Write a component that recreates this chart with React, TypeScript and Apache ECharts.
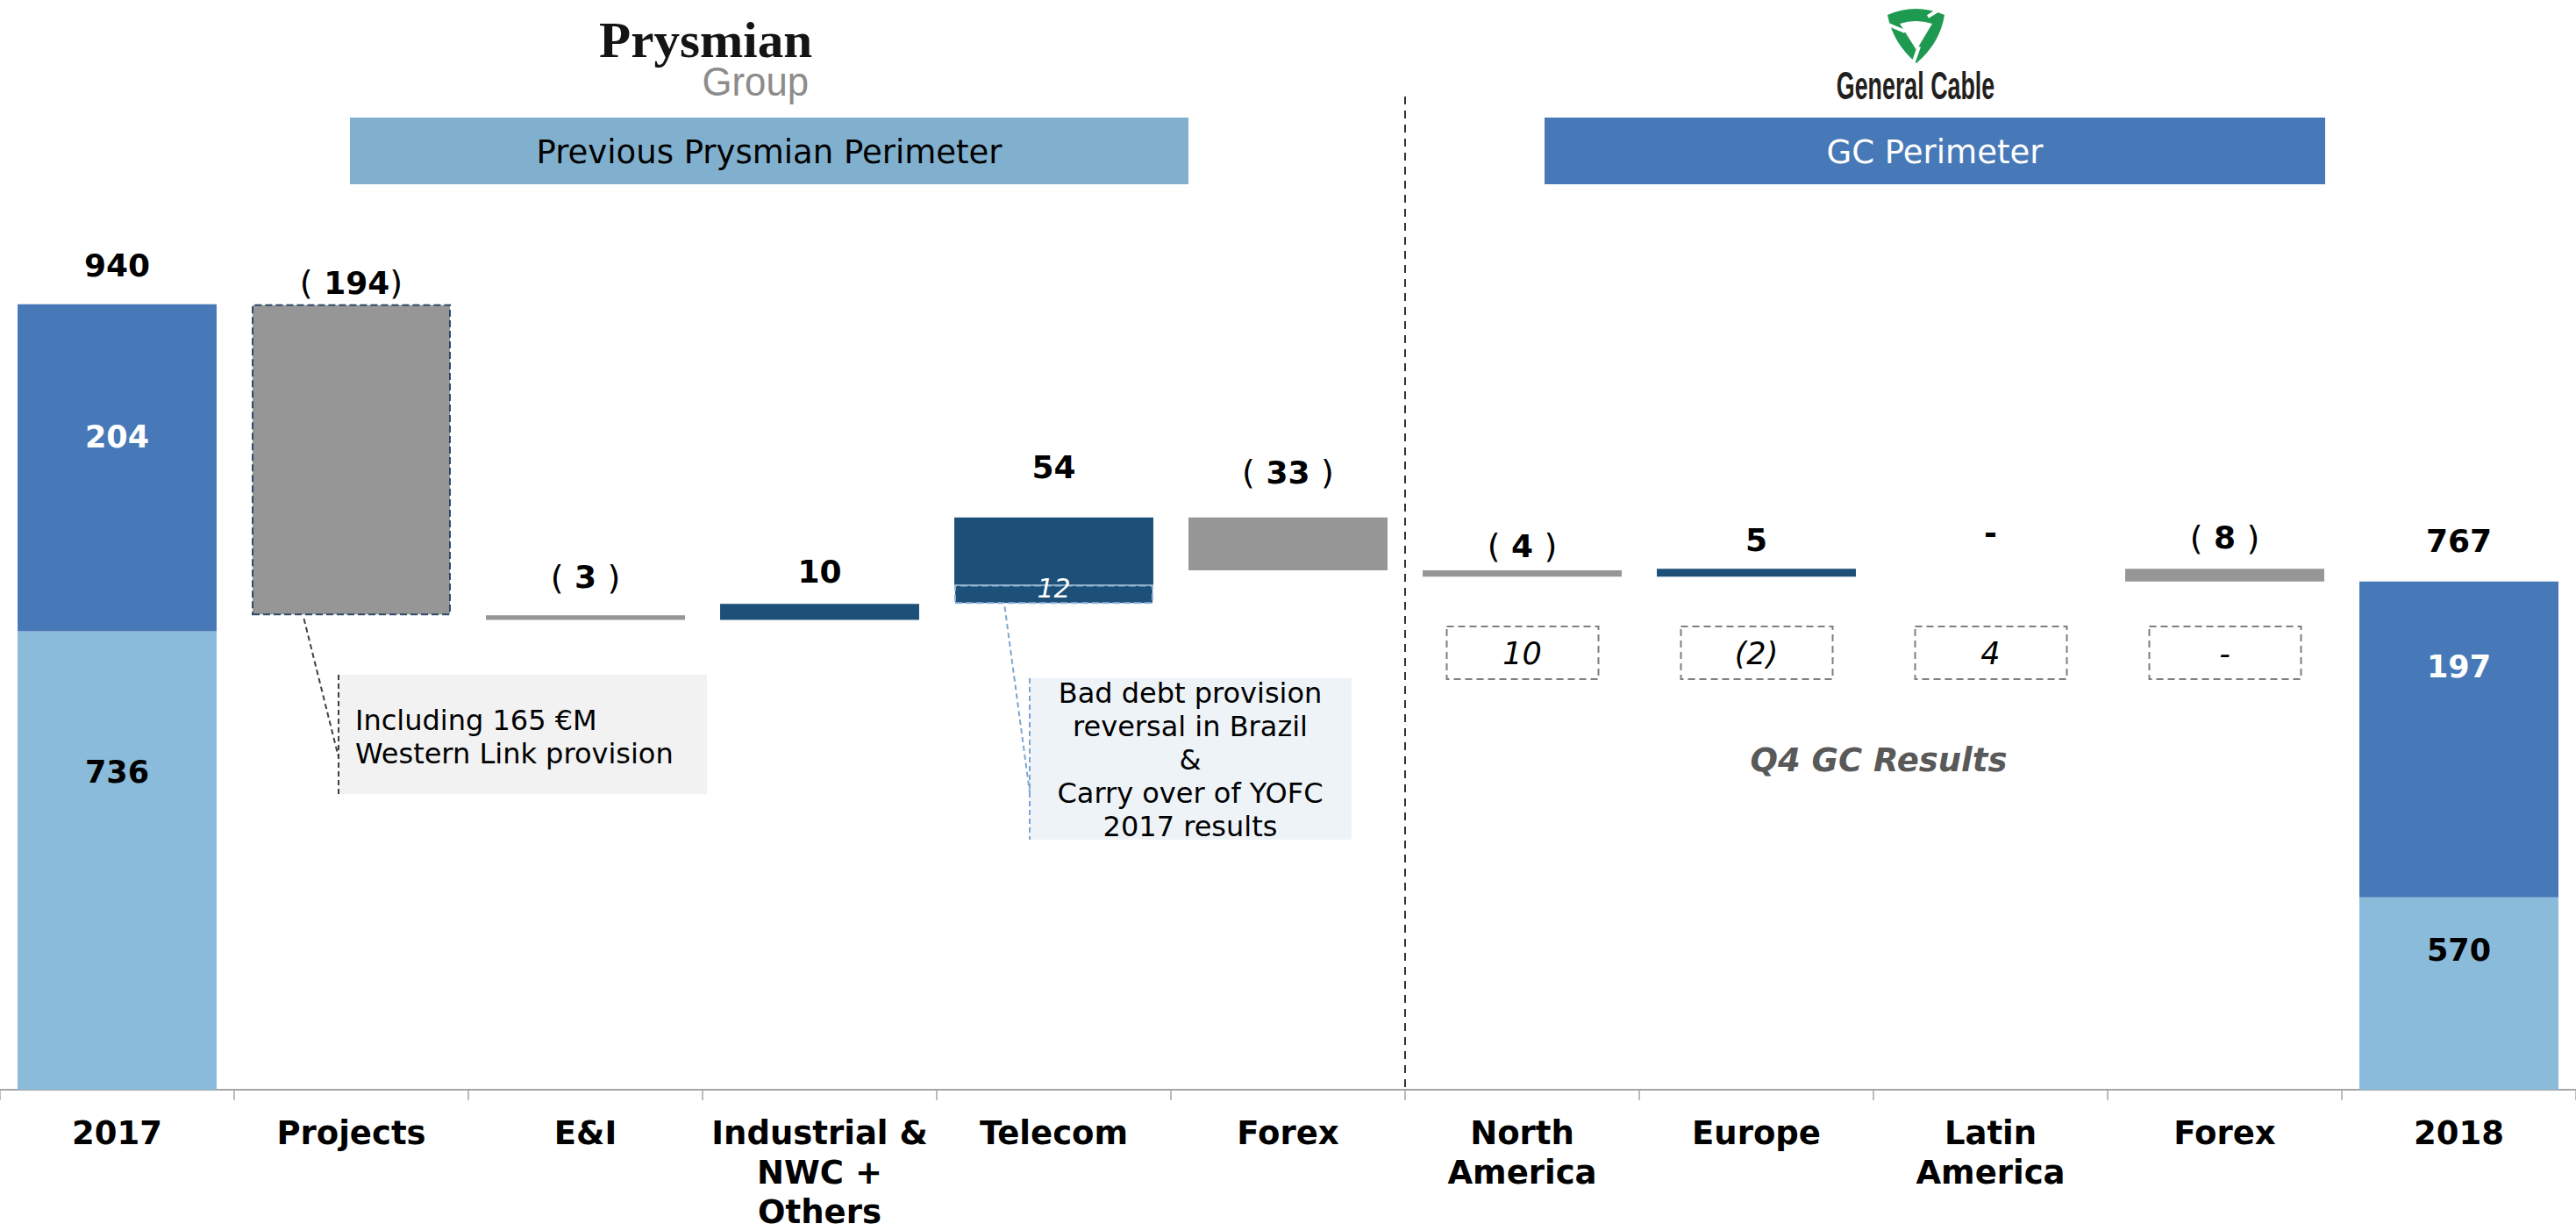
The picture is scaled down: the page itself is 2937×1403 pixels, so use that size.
import React, { useEffect, useRef } from "react";
import * as echarts from "echarts";

// ---------- data ----------
const categories = [
  "2017",
  "Projects",
  "E&I",
  "Industrial &\nNWC +\nOthers",
  "Telecom",
  "Forex",
  "North\nAmerica",
  "Europe",
  "Latin\nAmerica",
  "Forex",
  "2018",
];
const openingTotal = 940;
const openingSplit = [736, 204]; // lower, upper
const closingTotal = 767;
const closingSplit = [570, 197]; // lower, upper
const changes = [-194, -3, 10, 54, -33, -4, 5, 0, -8];
const changeLabels = ["( 194)", "( 3 )", "10", "54", "( 33 )", "( 4 )", "5", "-", "( 8 )"];
const telecomIndex = 4;
const telecomOneOff = 12;
const gcQ4Categories = [6, 7, 8, 9];
const gcQ4Labels = ["10", "(2)", "4", "-"];
const headerTexts = ["Previous Prysmian Perimeter", "GC Perimeter"];
const note1Lines = ["Including 165 €M", "Western Link provision"];
const note2Lines = ["Bad debt provision", "reversal in Brazil", "&", "Carry over of YOFC", "2017 results"];
const gcNote = "Q4 GC Results";

// ---------- style ----------
const FONT = "DejaVu Sans";
const C_LIGHT = "#8BBBDA";
const C_DARK = "#4779B8";
const C_GREY = "#969696";
const C_NAVY = "#1C5078";
const labelLift = [24, 4, 23, 16, 37, 31, 7, 12, 20, 15, 26];
const lowerInsideDist = [141, 40];
const upperInsideDist = [131, 77];

const GC_LOGO_D =
  "M0,10 Q32,-4 65,10 Q60,42 33,65 Q6,42 0,10 Z M14,20 L33,50 L51,20 Q32,14 14,20 Z";
echarts.graphic.registerShape("gcLogo", echarts.graphic.extendPath(GC_LOGO_D, {}) as any);

function richify(t: string) {
  return t.replace(/\(/g, "{p|(}").replace(/\)/g, "{p|)}");
}

function buildOption() {
  const n = categories.length;
  const levels: number[] = [openingTotal];
  changes.forEach((c) => levels.push(levels[levels.length - 1] + c));

  const nulls = () => new Array(n).fill(null) as any[];

  const lower = nulls();
  lower[0] = { value: openingSplit[0], label: { distance: lowerInsideDist[0] } };
  lower[n - 1] = { value: closingSplit[0], label: { distance: lowerInsideDist[1] } };
  const upper = nulls();
  upper[0] = { value: openingSplit[1], label: { distance: upperInsideDist[0] } };
  upper[n - 1] = { value: closingSplit[1], label: { distance: upperInsideDist[1] } };

  const base = nulls();
  const hl = nulls();
  const delta = nulls();
  changes.forEach((c, i) => {
    const ci = i + 1;
    base[ci] = Math.min(levels[i], levels[i + 1]);
    const extra = ci === telecomIndex ? telecomOneOff : 0;
    if (extra) hl[ci] = extra;
    const item: any = {
      value: Math.abs(c) - extra,
      itemStyle: { color: c < 0 ? C_GREY : C_NAVY },
    };
    if (ci === 1) {
      item.itemStyle.borderColor = "#2F4A6A";
      item.itemStyle.borderType = "dashed";
      item.itemStyle.borderWidth = 2;
    }
    delta[ci] = item;
  });

  const tops = [openingTotal, ...changes.map((c, i) => Math.max(levels[i], levels[i + 1])), closingTotal];
  const topTexts = [String(openingTotal), ...changeLabels, String(closingTotal)];

  const insideLabel = (color: string) => ({
    show: true,
    position: "insideTop",
    formatter: "{c}",
    color,
    opacity: 1,
    fontFamily: FONT,
    fontWeight: "bold",
    fontSize: 35,
    lineHeight: 40,
  });

  return {
    animation: false,
    backgroundColor: "#ffffff",
    grid: { left: 0, right: 0, top: 237, bottom: 161, containLabel: false, outerBoundsMode: "none" },
    xAxis: {
      type: "category",
      data: categories,
      axisLine: { show: true, lineStyle: { color: "#A6A6A6", width: 2 } },
      axisTick: { show: true, length: 12, lineStyle: { color: "#A6A6A6", width: 1.5 } },
      axisLabel: {
        interval: 0,
        color: "#000",
        fontFamily: FONT,
        fontWeight: "bold",
        fontSize: 37,
        lineHeight: 45,
        margin: 27,
      },
      splitLine: { show: false },
    },
    yAxis: { type: "value", min: 450, max: 1000, show: false, splitLine: { show: false } },
    series: [
      {
        name: "lower",
        type: "bar",
        stack: "w",
        barWidth: "85%",
        data: lower,
        itemStyle: { color: C_LIGHT },
        label: insideLabel("#000"),
        clip: true,
      },
      {
        name: "upper",
        type: "bar",
        stack: "w",
        data: upper,
        itemStyle: { color: C_DARK },
        label: insideLabel("#fff"),
        clip: true,
      },
      {
        name: "base",
        type: "bar",
        stack: "w",
        data: base,
        itemStyle: { color: "rgba(0,0,0,0)" },
        silent: true,
        clip: true,
      },
      {
        name: "oneoff",
        type: "bar",
        stack: "w",
        z: 4,
        data: hl,
        itemStyle: { color: C_NAVY, borderColor: "#8DB4D9", borderType: "dashed", borderWidth: 2 },
        label: {
          show: true,
          position: "inside",
          offset: [0, -7],
          formatter: "{c}",
          color: "#fff",
          opacity: 1,
          fontFamily: FONT,
          fontStyle: "italic",
          fontSize: 30,
          lineHeight: 30,
        },
        clip: true,
      },
      {
        name: "delta",
        type: "bar",
        stack: "w",
        data: delta,
        clip: true,
      },
      {
        name: "labels",
        type: "scatter",
        symbolSize: 1,
        itemStyle: { color: "rgba(0,0,0,0)", opacity: 1 },
        silent: true,
        z: 10,
        data: tops.map((v, i) => ({ value: [i, v], label: { distance: labelLift[i] } })),
        label: {
          show: true,
          position: "top",
          formatter: (p: any) => richify(topTexts[p.dataIndex]),
          color: "#000",
          opacity: 1,
          fontFamily: FONT,
          fontWeight: "bold",
          fontSize: 36,
          lineHeight: 40,
          rich: {
            p: { fontFamily: FONT, fontWeight: "normal", fontSize: 38, color: "#000", lineHeight: 40 },
          },
        },
      },
    ],
  };
}

export default function App() {
  const ref = useRef<HTMLDivElement>(null);
  useEffect(() => {
    const el = ref.current!;
    const chart = echarts.init(el, null, { renderer: "svg" });
    chart.setOption(buildOption() as any);

    const px = (i: number, v: number) => chart.convertToPixel({ gridIndex: 0 }, [i, v]) as number[];
    const axisY = px(0, 450)[1];
    const divX = (px(5, 450)[0] + px(6, 450)[0]) / 2;

    const levels: number[] = [openingTotal];
    changes.forEach((c) => levels.push(levels[levels.length - 1] + c));
    const projAnchor = px(1, levels[1]);
    const telAnchor = px(telecomIndex, levels[telecomIndex - 1]);

    const txt = (extra: any) => ({ type: "text", z: 100, silent: true, ...extra });

    const graphics: any[] = [
      // logos
      txt({
        x: 683,
        y: 46,
        style: {
          text: "Prysmian",
          fontFamily: "Liberation Serif",
          fontWeight: "bold",
          fontSize: 58,
          fill: "#141414",
          align: "left",
          verticalAlign: "middle",
        },
        scaleX: 1.02,
      }),
      txt({
        x: 922,
        y: 93,
        style: {
          text: "Group",
          fontFamily: "Liberation Sans",
          fontSize: 47,
          fill: "#8C8C8C",
          align: "right",
          verticalAlign: "middle",
        },
        scaleX: 0.93,
      }),
      { type: "gcLogo", x: 2152, y: 7, z: 100, silent: true, style: { fill: "#1E9A50" } },
      { type: "line", z: 101, silent: true, shape: { x1: 2198, y1: 19, x2: 2214, y2: 9 }, style: { stroke: "#fff", lineWidth: 4 } },
      { type: "line", z: 101, silent: true, shape: { x1: 2172, y1: 36, x2: 2153, y2: 28 }, style: { stroke: "#fff", lineWidth: 4 } },
      { type: "line", z: 101, silent: true, shape: { x1: 2188, y1: 53, x2: 2182, y2: 70 }, style: { stroke: "#fff", lineWidth: 4 } },
      txt({
        x: 2184,
        y: 98,
        style: {
          text: "General Cable",
          fontFamily: "Liberation Sans",
          fontWeight: "bold",
          fontSize: 44,
          fill: "#231F20",
          align: "center",
          verticalAlign: "middle",
        },
        scaleX: 0.61,
      }),
      // headers
      { type: "rect", z: 90, silent: true, shape: { x: 399, y: 134, width: 956, height: 76 }, style: { fill: "#81B0CE" } },
      txt({
        x: 877,
        y: 173,
        style: { text: headerTexts[0], fontFamily: FONT, fontSize: 37, fill: "#000", align: "center", verticalAlign: "middle" },
      }),
      { type: "rect", z: 90, silent: true, shape: { x: 1761, y: 134, width: 890, height: 76 }, style: { fill: C_DARK } },
      txt({
        x: 2206,
        y: 173,
        style: { text: headerTexts[1], fontFamily: FONT, fontSize: 37, fill: "#fff", align: "center", verticalAlign: "middle" },
      }),
      // divider
      {
        type: "line",
        z: 90,
        silent: true,
        shape: { x1: divX, y1: 110, x2: divX, y2: axisY },
        style: { stroke: "#333333", lineWidth: 2, lineDash: [9, 7] },
      },
      // note 1
      { type: "rect", z: 90, silent: true, shape: { x: 386, y: 769, width: 420, height: 136 }, style: { fill: "#F2F2F2" } },
      {
        type: "line",
        z: 91,
        silent: true,
        shape: { x1: 386, y1: 769, x2: 386, y2: 905 },
        style: { stroke: "#404040", lineWidth: 2, lineDash: [6, 4] },
      },
      {
        type: "line",
        z: 91,
        silent: true,
        shape: { x1: projAnchor[0] - 54, y1: projAnchor[1] + 4, x2: 386, y2: 863 },
        style: { stroke: "#404040", lineWidth: 2, lineDash: [6, 4] },
      },
      txt({
        x: 405,
        y: 840,
        style: {
          text: note1Lines.join("\n"),
          fontFamily: FONT,
          fontSize: 32,
          lineHeight: 38,
          fill: "#000",
          align: "left",
          verticalAlign: "middle",
        },
      }),
      // note 2
      { type: "rect", z: 90, silent: true, shape: { x: 1174, y: 773, width: 367, height: 184 }, style: { fill: "#EEF3F8" } },
      {
        type: "line",
        z: 91,
        silent: true,
        shape: { x1: 1174, y1: 773, x2: 1174, y2: 957 },
        style: { stroke: "#7BA7CF", lineWidth: 2, lineDash: [6, 4] },
      },
      {
        type: "line",
        z: 91,
        silent: true,
        shape: { x1: telAnchor[0] - 56, y1: telAnchor[1] + 3, x2: 1174, y2: 903 },
        style: { stroke: "#7BA7CF", lineWidth: 2, lineDash: [6, 4] },
      },
      txt({
        x: 1357,
        y: 866,
        style: {
          text: note2Lines.join("\n"),
          fontFamily: FONT,
          fontSize: 32,
          lineHeight: 38,
          fill: "#000",
          align: "center",
          verticalAlign: "middle",
        },
      }),
      // GC Q4
      txt({
        x: 2142,
        y: 866,
        style: {
          text: gcNote,
          fontFamily: FONT,
          fontWeight: "bold",
          fontStyle: "italic",
          fontSize: 37,
          fill: "#595959",
          align: "center",
          verticalAlign: "middle",
        },
      }),
    ];

    gcQ4Categories.forEach((ci, k) => {
      const cx = px(ci, 450)[0];
      graphics.push({
        type: "rect",
        z: 90,
        silent: true,
        shape: { x: cx - 86, y: 714, width: 173, height: 60 },
        style: { fill: "none", stroke: "#7F7F7F", lineWidth: 2, lineDash: [8, 5] },
      });
      graphics.push(
        txt({
          x: cx,
          y: 745,
          style: {
            text: gcQ4Labels[k],
            fontFamily: FONT,
            fontStyle: "italic",
            fontSize: 35,
            fill: "#000",
            align: "center",
            verticalAlign: "middle",
          },
        })
      );
    });

    chart.setOption({ graphic: { elements: graphics } } as any);
    return () => chart.dispose();
  }, []);

  return (
    <div
      ref={ref}
      style={{ position: "fixed", left: 0, top: 0, width: 2937, height: 1403, background: "#fff" }}
    />
  );
}
